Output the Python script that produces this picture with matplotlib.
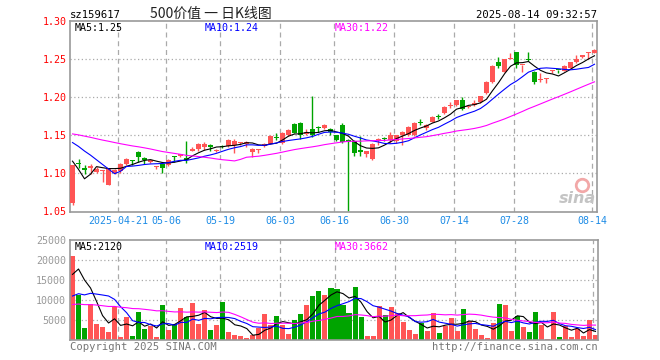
import numpy as np
import pandas as pd
import matplotlib
matplotlib.use("Agg")
import matplotlib.pyplot as plt

# ---- data ----
opens = [1.061, 1.114, 1.107, 1.107, 1.102, 1.103, 1.085, 1.101, 1.103, 1.112,
         1.117, 1.128, 1.120, 1.115, 1.108, 1.112, 1.111, 1.1225, 1.123, 1.120,
         1.130, 1.132, 1.134, 1.137, 1.1295, 1.136, 1.136, 1.137, 1.140, 1.138,
         1.128, 1.131, 1.136, 1.139, 1.1475, 1.140, 1.150, 1.165, 1.166, 1.152,
         1.158, 1.161, 1.159, 1.158, 1.150, 1.1635, 1.144, 1.143, 1.1305, 1.125,
         1.119, 1.144, 1.147, 1.1435, 1.143, 1.150, 1.150, 1.150, 1.1665, 1.1596,
         1.1675, 1.1755, 1.179, 1.188, 1.190, 1.196, 1.187, 1.190, 1.194, 1.2057,
         1.220, 1.2464, 1.2333, 1.2504, 1.2596, 1.2420, 1.249, 1.2333, 1.2228, 1.2241,
         1.2350, 1.2362, 1.2346, 1.2386, 1.2465, 1.2535, 1.2578, 1.2583]
highs = [1.111, 1.119, 1.111, 1.112, 1.108, 1.104, 1.106, 1.106, 1.114, 1.120,
         1.117, 1.130, 1.121, 1.118, 1.110, 1.113, 1.119, 1.123, 1.126, 1.142,
         1.134, 1.140, 1.141, 1.138, 1.132, 1.137, 1.145, 1.145, 1.141, 1.143,
         1.133, 1.132, 1.140, 1.150, 1.1535, 1.154, 1.158, 1.166, 1.167, 1.158,
         1.202, 1.162, 1.165, 1.159, 1.151, 1.166, 1.145, 1.144, 1.149, 1.130,
         1.1395, 1.147, 1.148, 1.154, 1.151, 1.156, 1.162, 1.167, 1.171, 1.165,
         1.175, 1.178, 1.188, 1.194, 1.197, 1.2004, 1.189, 1.1965, 1.202, 1.221,
         1.242, 1.253, 1.251, 1.258, 1.260, 1.243, 1.2596, 1.234, 1.232, 1.226,
         1.236, 1.2365, 1.242, 1.247, 1.2552, 1.2555, 1.2595, 1.263]
lows = [1.058, 1.107, 1.099, 1.099, 1.100, 1.088, 1.084, 1.099, 1.101, 1.111,
        1.111, 1.115, 1.112, 1.114, 1.106, 1.100, 1.110, 1.115, 1.122, 1.114,
        1.129, 1.130, 1.131, 1.130, 1.128, 1.133, 1.135, 1.127, 1.137, 1.135,
        1.122, 1.127, 1.135, 1.138, 1.144, 1.139, 1.149, 1.1525, 1.145, 1.150,
        1.148, 1.155, 1.158, 1.150, 1.142, 1.140, 1.051, 1.123, 1.123, 1.122,
        1.1175, 1.137, 1.1425, 1.140, 1.1395, 1.137, 1.149, 1.149, 1.164, 1.157,
        1.167, 1.172, 1.178, 1.186, 1.189, 1.183, 1.1855, 1.189, 1.193, 1.205,
        1.219, 1.2385, 1.233, 1.250, 1.238, 1.2333, 1.2477, 1.2175, 1.220, 1.219,
        1.2324, 1.232, 1.234, 1.238, 1.2447, 1.2513, 1.2504, 1.258]
closes = [1.111, 1.112, 1.105, 1.110, 1.106, 1.104, 1.106, 1.105, 1.112, 1.119,
          1.116, 1.121, 1.117, 1.117, 1.109, 1.107, 1.118, 1.122, 1.125, 1.118,
          1.132, 1.138, 1.139, 1.134, 1.130, 1.134, 1.144, 1.142, 1.1405, 1.141,
          1.132, 1.1315, 1.139, 1.1495, 1.146, 1.153, 1.157, 1.153, 1.151, 1.155,
          1.150, 1.160, 1.164, 1.154, 1.144, 1.141, 1.1415, 1.127, 1.128, 1.129,
          1.1385, 1.145, 1.145, 1.150, 1.150, 1.155, 1.161, 1.166, 1.166, 1.1636,
          1.174, 1.1745, 1.187, 1.190, 1.1964, 1.185, 1.1886, 1.192, 1.2017, 1.220,
          1.241, 1.241, 1.2504, 1.2517, 1.2425, 1.2425, 1.2485, 1.220, 1.224, 1.2254,
          1.2355, 1.2355, 1.2412, 1.2465, 1.2504, 1.2552, 1.259, 1.2622]
volumes = [21000, 11250, 3000, 9000, 4000, 3250, 2000, 8250, 750, 5750,
           1000, 7000, 2750, 3500, 750, 8750, 2500, 4000, 8000, 5750,
           9250, 4000, 7500, 2500, 3750, 9500, 2000, 1250, 1000, 500,
           1250, 3000, 6500, 3750, 6000, 3750, 1500, 5000, 6500, 8750,
           11000, 12250, 11250, 13000, 12750, 8750, 6750, 13250, 5750, 1000,
           1000, 8500, 6250, 8250, 6750, 4500, 2500, 1500, 4250, 2250,
           6750, 1750, 3500, 5500, 2250, 7750, 4750, 2750, 1250, 500,
           4250, 9000, 8750, 2250, 6000, 3250, 2000, 7000, 3750, 250,
           7000, 750, 3500, 750, 2750, 1000, 5000, 1250]

# sessions before the window, only needed so the moving averages start right
hist_close = [1.150, 1.154, 1.158, 1.161, 1.157, 1.152, 1.155, 1.160, 1.163, 1.159,
              1.156, 1.158, 1.162, 1.160, 1.157, 1.155, 1.158, 1.161, 1.159, 1.155,
              1.163, 1.166, 1.164, 1.167, 1.165, 1.166, 1.167, 1.080, 1.056]
hist_vol = [8000, 7500, 9000, 7000, 8500, 7500, 8000, 7000, 9000, 7500,
            8000, 7500, 8500, 7000, 8000, 7500, 8000, 7000, 8500, 7500,
            5500, 6000, 5000, 6000, 5500, 4500, 16750, 19000, 20750]

tick_idx = [8, 16, 25, 35, 44, 54, 64, 74, 87]
tick_labels = ["2025-04-21", "05-06", "05-19", "06-03", "06-16",
               "06-30", "07-14", "07-28", "08-14"]
price_ticks = [1.05, 1.10, 1.15, 1.20, 1.25, 1.30]
vol_ticks = [5000, 10000, 15000, 20000, 25000]

UP = "#FF5555"
DOWN = "#00A400"
GRID = "#AAAAAA"
FRAME = "#999999"
MONO = "DejaVu Sans Mono"
FS = 7.2
LW = 0.8

n = len(closes)
x = np.arange(n)
o = np.array(opens); h = np.array(highs); l = np.array(lows); c = np.array(closes)
col = np.where(c >= o, UP, DOWN)

pc = pd.Series(hist_close + closes)
ma = {k: pc.rolling(k).mean().to_numpy()[-n:] for k in (5, 10, 30)}
pv = pd.Series(hist_vol + volumes)
vma = {k: pv.rolling(k).mean().to_numpy()[-n:] for k in (5, 10, 30)}
ma_col = {5: "black", 10: "#0000FF", 30: "#FF00FF"}

W, H = 660, 360
fig = plt.figure(figsize=(6.6, 3.6), dpi=100)
ax = fig.add_axes([70 / W, 1 - 212 / H, 527 / W, 191 / H])
av = fig.add_axes([70 / W, 1 - 340 / H, 528 / W, 100 / H])

xl = (-0.417, 87.42)
for a in (ax, av):
    a.set_xlim(*xl)
    for s in a.spines.values():
        s.set_color(FRAME)
        s.set_linewidth(1.2)
    for t in tick_idx:
        a.axvline(t - 0.4, color=GRID, lw=0.9, ls=(0, (4, 3)), zorder=0)

# ----- price panel -----
ax.set_ylim(1.0491, 1.3004)
for yv in price_ticks[1:-1]:
    ax.axhline(yv, color=GRID, lw=0.9, ls=(0, (1, 2)), zorder=0)
ax.vlines(x, l, h, colors=col, lw=1.0, zorder=2)
body = np.maximum(np.abs(c - o), 0.0013)
ax.bar(x, body, bottom=np.minimum(o, c), width=0.84, color=col, lw=0, zorder=3)
for k in (5, 10, 30):
    ax.plot(x, ma[k], color=ma_col[k], lw=LW, zorder=4)

ax.set_yticks(price_ticks)
ax.set_yticklabels([f"{v:.2f}" for v in price_ticks], fontfamily=MONO, fontsize=FS)
ax.tick_params(axis="y", length=0, pad=2, colors="#FF0000")
ax.set_xticks([t - 0.4 for t in tick_idx])
ax.set_xticklabels(tick_labels, fontfamily=MONO, fontsize=FS)
ax.tick_params(axis="x", length=0, pad=3, colors="#1E8CE6")

# sina watermark (eye + word)
ax.plot([0.972], [0.14], transform=ax.transAxes, marker="o", ms=9, mfc="none",
        mec="#F2A8A8", mew=2.0, zorder=1)
ax.text(0.998, 0.03, "sina", transform=ax.transAxes, ha="right", va="bottom",
        fontsize=11.5, fontweight="bold", style="italic", color="#C4C4C4", zorder=1)

# ----- volume panel -----
av.set_ylim(0, 25000)
for yv in vol_ticks[:-1]:
    av.axhline(yv, color=GRID, lw=0.9, ls=(0, (1, 2)), zorder=0)
av.bar(x, volumes, width=0.84, color=col, lw=0, zorder=2)
for k in (5, 10, 30):
    av.plot(x, vma[k], color=ma_col[k], lw=LW, zorder=4)
av.set_yticks(vol_ticks)
av.set_yticklabels([str(v) for v in vol_ticks], fontfamily=MONO, fontsize=FS)
av.tick_params(axis="y", length=0, pad=3, colors="#999999")
av.set_xticks([])


def ftext(px, py, s, **kw):
    kw.setdefault("fontfamily", MONO)
    kw.setdefault("fontsize", FS)
    fig.text(px / W, 1 - py / H, s, va="center", **kw)


# header
ftext(70, 15, "sz159617", color="black", fontsize=7.6)
ftext(150, 14, "500价值 一 日K线图", color="#222222", fontsize=10,
      fontfamily=["Noto Sans CJK SC", "DejaVu Sans"])
ftext(597, 15, "2025-08-14 09:32:57", color="black", ha="right", fontsize=7.6)

# MA legends
ftext(75, 28, f"MA5:{ma[5][-1]:.2f}", color="black")
ftext(205, 28, f"MA10:{ma[10][-1]:.2f}", color="#0000FF")
ftext(335, 28, f"MA30:{ma[30][-1]:.2f}", color="#FF00FF")
ftext(75, 247, "MA5:2120", color="black")
ftext(205, 247, "MA10:2519", color="#0000FF")
ftext(335, 247, "MA30:3662", color="#FF00FF")

# footer
ftext(70, 347, "Copyright 2025 SINA.COM", color="#777777", fontsize=7.6)
ftext(598, 347, "http://finance.sina.com.cn", color="#777777", ha="right", fontsize=7.6)

fig.savefig("out.png", dpi=100)
